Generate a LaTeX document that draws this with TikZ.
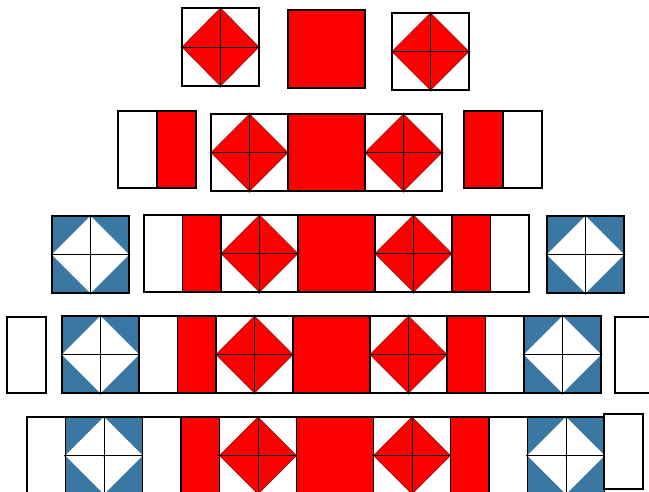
\documentclass[tikz,border=0pt]{standalone}
\definecolor{qred}{RGB}{255,0,0}
\definecolor{qblue}{RGB}{58,119,163}
\tikzset{
  box/.style={draw=black,line width=1.3pt},
  thinline/.style={draw=black,line width=0.9pt},
  reddia/.style={fill=qred,draw=qred!55!black,line width=0.6pt},
  whitedia/.style={fill=white,draw=white,line width=0.3pt},
}
% x, y, w, h, background, diamond style
\newcommand\qdia[6]{%
  \fill[#5] (#1,#2) rectangle ++(#3,#4);
  \path[#6] (#1+#3/2,#2) -- (#1+#3,#2+#4/2) -- (#1+#3/2,#2+#4) -- (#1,#2+#4/2) -- cycle;
  \draw[thinline] (#1+#3/2,#2) -- ++(0,#4) (#1,#2+#4/2) -- ++(#3,0);
  \draw[box] (#1,#2) rectangle ++(#3,#4);
  \fill[black] (#1+#3/2,#2) circle (1.5) (#1+#3,#2+#4/2) circle (1.5)
     (#1+#3/2,#2+#4) circle (1.5) (#1,#2+#4/2) circle (1.5) (#1+#3/2,#2+#4/2) circle (1);
}
\newcommand\qcell[5]{\filldraw[fill=#5,box] (#1,#2) rectangle ++(#3,#4);}
\begin{document}
\begin{tikzpicture}[x=1pt,y=-1pt]
\useasboundingbox (0,0) rectangle (649,491);
\clip (0,0) rectangle (649,491);
\fill[white] (0,0) rectangle (649,491);
% row 1
\qdia{182}{8}{77}{78}{white}{reddia}
\qcell{288}{10}{77}{78}{qred}
\qdia{392}{13}{77}{77}{white}{reddia}
% row 2
\qcell{118}{111}{39}{77}{white}
\qcell{157}{111}{39}{77}{qred}
\qdia{211}{114}{77}{77}{white}{reddia}
\qcell{288}{114}{77}{77}{qred}
\qdia{365}{114}{77}{77}{white}{reddia}
\qcell{464}{111}{39}{77}{qred}
\qcell{503}{111}{39}{77}{white}
% row 3
\qdia{52}{216}{77}{77}{qblue}{whitedia}
\qcell{144}{215}{38.5}{77}{white}
\qcell{182.5}{215}{38.5}{77}{qred}
\qdia{221}{215}{77}{77}{white}{reddia}
\qcell{298}{215}{77}{77}{qred}
\qdia{375}{215}{77}{77}{white}{reddia}
\qcell{452}{215}{38.5}{77}{qred}
\qcell{490.5}{215}{38.5}{77}{white}
\qdia{547}{216}{77}{77}{qblue}{whitedia}
% row 4
\qcell{7}{317}{39}{76}{white}
\qdia{62}{316}{77}{77}{qblue}{whitedia}
\qcell{139}{316}{38.5}{77}{white}
\qcell{177.5}{316}{38.5}{77}{qred}
\qdia{216}{316}{77}{77}{white}{reddia}
\qcell{293}{316}{77}{77}{qred}
\qdia{370}{316}{77}{77}{white}{reddia}
\qcell{447}{316}{38.5}{77}{qred}
\qcell{485.5}{316}{38.5}{77}{white}
\qdia{524}{316}{77}{77}{qblue}{whitedia}
\qcell{615}{317}{40}{76}{white}
% row 5
\qcell{27}{417}{38.5}{77}{white}
\qdia{65.5}{417}{77}{77}{qblue}{whitedia}
\qcell{142.5}{417}{38.5}{77}{white}
\qcell{181}{417}{38.5}{77}{qred}
\qdia{219.5}{417}{77}{77}{white}{reddia}
\qcell{296.5}{417}{77}{77}{qred}
\qdia{373.5}{417}{77}{77}{white}{reddia}
\qcell{450.5}{417}{38.5}{77}{qred}
\qcell{489}{417}{38.5}{77}{white}
\qdia{527.5}{417}{77}{77}{qblue}{whitedia}
\qcell{604}{414}{39}{75}{white}
\end{tikzpicture}
\end{document}
